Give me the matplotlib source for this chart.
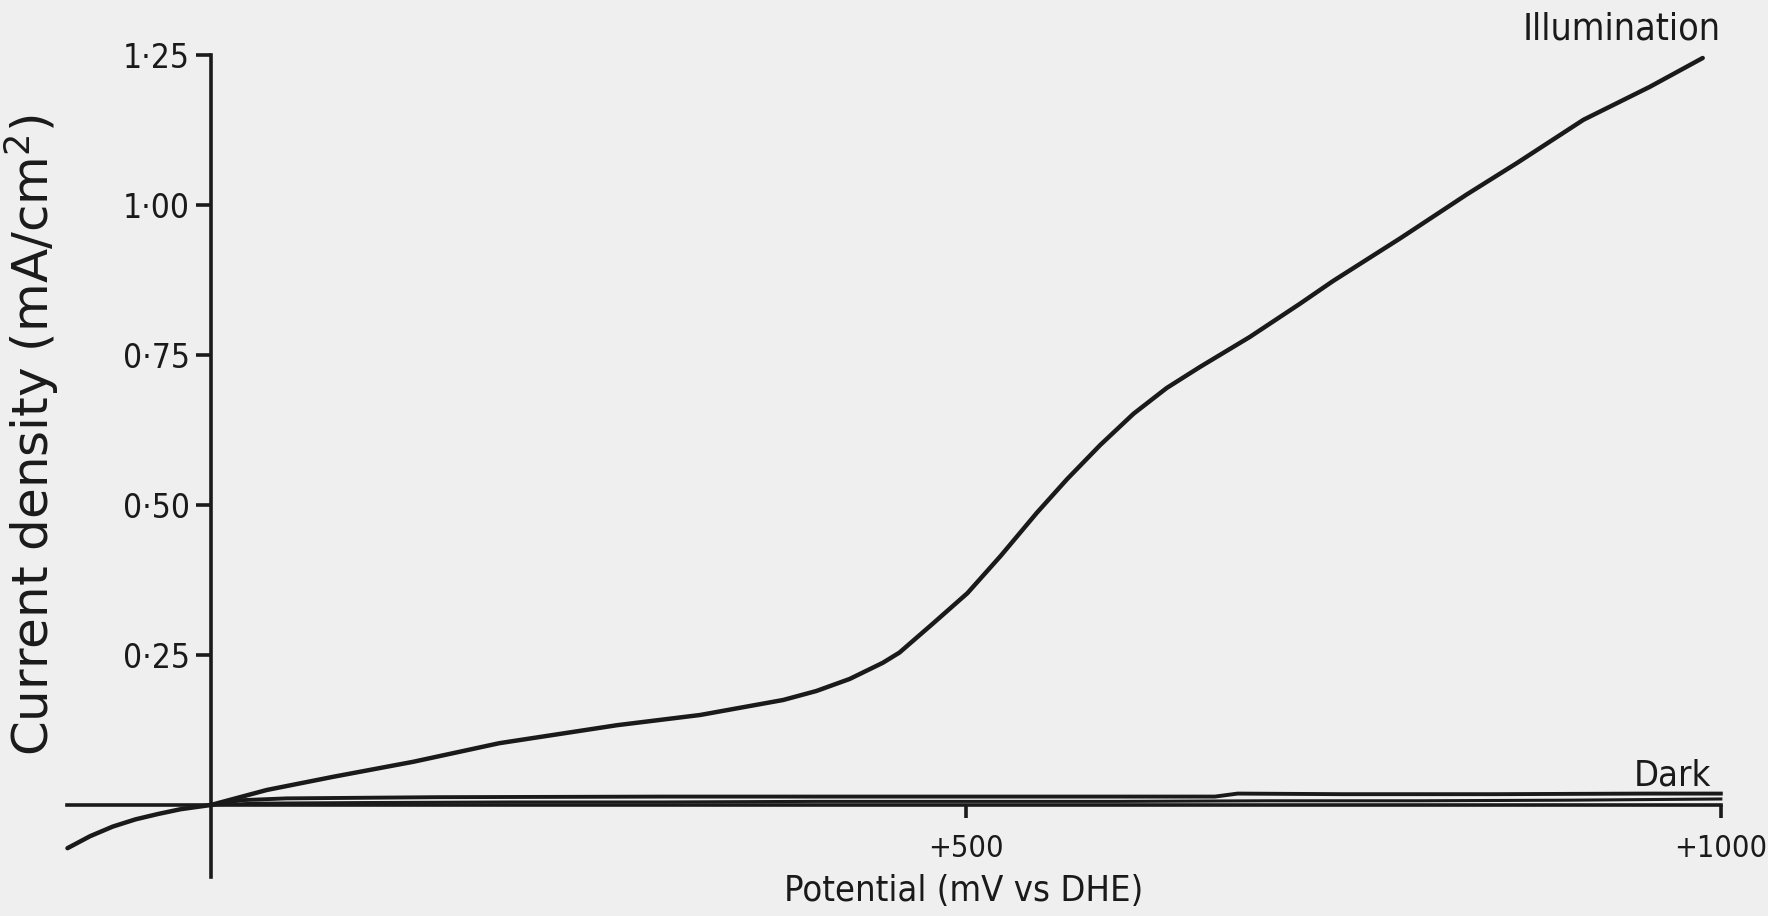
from matplotlib import pyplot as plt

# illuminated curve (mV vs DHE, mA/cm2)
illum_mv = [-95, -80, -65, -50, -35, -20, 0, 37, 81, 134, 191, 269, 324, 379, 401, 423, 445, 456,
            478, 501, 523, 547, 567, 589, 611, 633, 655, 688, 721, 743, 788, 832, 865, 909, 953, 988]
illum_j = [-0.072, -0.052, -0.036, -0.024, -0.015, -0.007, 0.0, 0.025, 0.047, 0.072, 0.103, 0.133,
           0.150, 0.175, 0.190, 0.210, 0.237, 0.254, 0.302, 0.353, 0.415, 0.487, 0.543, 0.600, 0.652,
           0.695, 0.730, 0.780, 0.835, 0.873, 0.945, 1.018, 1.070, 1.142, 1.197, 1.245]

# dark curve, forward and back scan
dark_fwd_mv = [0, 20, 50, 150, 300, 450, 600, 665, 680, 750, 850, 950, 1000]
dark_fwd_j = [0.0, 0.008, 0.011, 0.013, 0.014, 0.014, 0.014, 0.014, 0.019, 0.018, 0.018, 0.019, 0.019]
dark_back_mv = [1000, 900, 800, 700, 600, 500, 400, 300, 200, 100, 30, 0]
dark_back_j = [0.010, 0.008, 0.007, 0.007, 0.006, 0.006, 0.006, 0.005, 0.005, 0.004, 0.003, 0.0]

yticks = [0.25, 0.50, 0.75, 1.00, 1.25]
ytick_labels = ['0\u00b725', '0\u00b750', '0\u00b775', '1\u00b700', '1\u00b725']
xticks = [500, 1000]
xtick_labels = ['+500', '+1000']

bg = '#efefef'
ink = '#1a1a1a'
fig = plt.figure(figsize=(17.68, 9.16), dpi=100, facecolor=bg)
ax = fig.add_axes([0.0339, 0.0295, 0.9565, 0.9432])
ax.set_facecolor(bg)

ax.plot(illum_mv, illum_j, color=ink, lw=3.2, solid_capstyle='round', solid_joinstyle='round')
ax.plot(dark_fwd_mv, dark_fwd_j, color=ink, lw=2.8, solid_joinstyle='round')
ax.plot(dark_back_mv, dark_back_j, color=ink, lw=2.2, solid_joinstyle='round')

ax.set_xlim(-100, 1020)
ax.set_ylim(-0.14, 1.30)

for s in ['top', 'right']:
    ax.spines[s].set_visible(False)
ax.spines['left'].set_position(('data', 0))
ax.spines['bottom'].set_position(('data', 0))
ax.spines['left'].set_bounds(-0.12, 1.25)
ax.spines['bottom'].set_bounds(-95, 1000)
for s in ['left', 'bottom']:
    ax.spines[s].set_linewidth(2.6)
    ax.spines[s].set_color(ink)

ax.set_yticks(yticks)
ax.set_yticklabels(ytick_labels, fontsize=24, fontstretch='condensed')
ax.set_xticks(xticks)
ax.set_xticklabels(xtick_labels, fontsize=22, fontstretch='condensed')
ax.tick_params(axis='y', direction='out', length=11, width=2.6, pad=4, colors=ink)
ax.tick_params(axis='x', direction='out', length=9, width=2.6, pad=12, colors=ink)

fig.text(32 / 1768, 1 - 435 / 916, 'Current density (mA/cm$^2$)', rotation=90,
         fontsize=36, ha='center', va='center', color=ink)
fig.text(964 / 1768, 1 - 891 / 916, 'Potential (mV vs DHE)', fontsize=26,
         fontstretch='condensed', ha='center', va='center', color=ink)
fig.text(1622 / 1768, 1 - 30 / 916, 'Illumination', fontsize=27, fontstretch='condensed',
         ha='center', va='center', color=ink)
fig.text(1672 / 1768, 1 - 776 / 916, 'Dark', fontsize=26, fontstretch='condensed',
         ha='center', va='center', color=ink)

fig.savefig('out.png', dpi=100, facecolor=bg)
